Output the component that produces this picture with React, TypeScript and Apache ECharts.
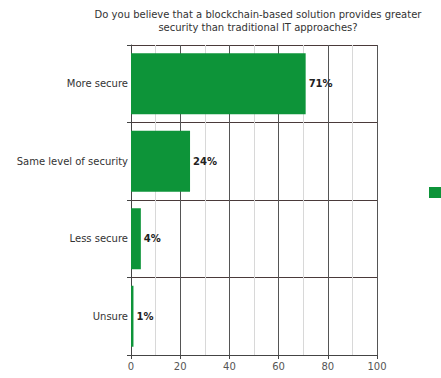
import React, { useEffect, useRef } from "react";
import * as echarts from "echarts";

const title = "Do you believe that a blockchain-based solution provides greater\nsecurity than traditional IT approaches?";
const categories = ["More secure", "Same level of security", "Less secure", "Unsure"];
const values = [71, 24, 4, 1];
const axisMin = 0;
const axisMax = 100;
const axisStep = 20;

export default function App() {
  const ref = useRef<HTMLDivElement>(null);

  useEffect(() => {
    if (!ref.current) return;
    const chart = echarts.init(ref.current, undefined, { renderer: "svg" });
    const font = "DejaVu Sans, Verdana, sans-serif";
    chart.setOption({
      animation: false,
      backgroundColor: "#ffffff",
      title: {
        text: title,
        left: 253,
        top: 3,
        textAlign: "center",
        textStyle: {
          fontFamily: font,
          fontSize: 10,
          fontWeight: "normal",
          color: "#333",
          lineHeight: 13,
        },
      },
      legend: {
        left: 424,
        top: 182,
        itemWidth: 12,
        itemHeight: 11,
        itemGap: 0,
        formatter: () => "",
        data: [{ name: "share", icon: "rect" }],
      },
      grid: { left: 131, right: 64, top: 45, bottom: 23, containLabel: false },
      xAxis: {
        type: "value",
        min: axisMin,
        max: axisMax,
        interval: axisStep,
        axisLine: { show: true, lineStyle: { color: "#444", width: 1 } },
        axisTick: { show: true, length: 4, lineStyle: { color: "#444" } },
        axisLabel: { color: "#555", fontFamily: font, fontSize: 10, margin: 6 },
        splitLine: { show: true, lineStyle: { color: "#555", width: 1 } },
        minorTick: { show: false, splitNumber: 2 },
        minorSplitLine: { show: true, lineStyle: { color: "#d8d8d8", width: 1 } },
      },
      yAxis: {
        type: "category",
        inverse: true,
        data: categories,
        axisLine: { show: true, lineStyle: { color: "#444", width: 1 } },
        axisTick: { show: true, length: 4, lineStyle: { color: "#444" } },
        axisLabel: { color: "#333", fontFamily: font, fontSize: 10, margin: 3 },
        splitLine: { show: true, lineStyle: { color: "#4a3a3a", width: 1 } },
      },
      series: [
        {
          name: "share",
          type: "bar",
          data: values,
          barWidth: 61,
          itemStyle: { color: "#0d9439" },
          label: {
            show: true,
            position: "right",
            distance: 3,
            formatter: "{c}%",
            fontFamily: font,
            fontSize: 10,
            fontWeight: "bold",
            color: "#222",
          },
        },
      ],
    });
    return () => chart.dispose();
  }, []);

  return <div ref={ref} style={{ width: 441, height: 378, position: "absolute", left: 0, top: 0 }} />;
}
